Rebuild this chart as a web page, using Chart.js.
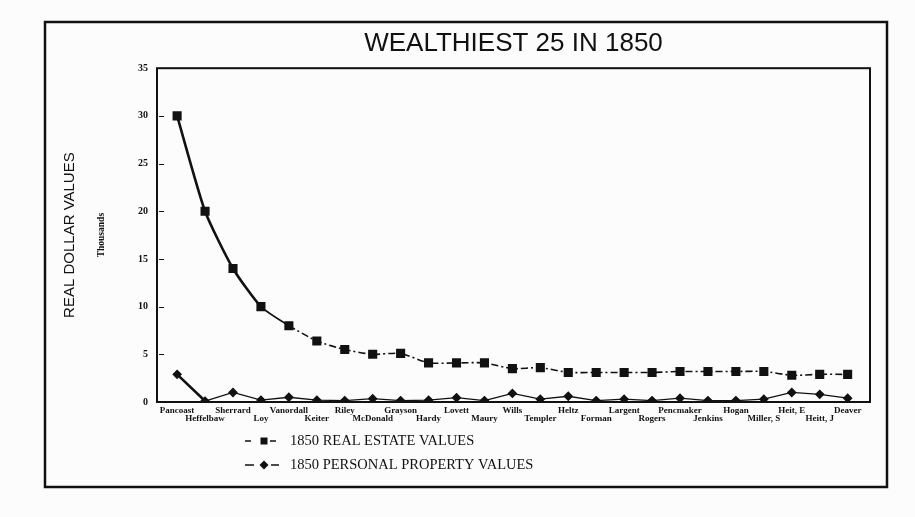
<!DOCTYPE html>
<html>
<head>
<meta charset="utf-8">
<title>Wealthiest 25 in 1850</title>
<script src="https://cdn.jsdelivr.net/npm/chart.js@4.4.1/dist/chart.umd.min.js"></script>
<style>
  html, body { margin: 0; padding: 0; background: #fcfcfc; }
  #wrap { width: 915px; height: 517px; position: relative; }
</style>
</head>
<body>
<div id="wrap"><canvas id="grafico"></canvas></div>
<script>
// ========================
// Data
// ========================
const names = ["Pancoast", "Heffelbaw", "Sherrard", "Loy", "Vanordall", "Keiter", "Riley",
  "McDonald", "Grayson", "Hardy", "Lovett", "Maury", "Wills", "Templer", "Heltz", "Forman",
  "Largent", "Rogers", "Pencmaker", "Jenkins", "Hogan", "Miller, S", "Heit, E", "Heitt, J", "Deaver"];

const realEstate = [30, 20, 14, 10, 8, 6.4, 5.5, 5.0, 5.1, 4.1, 4.1, 4.1, 3.5, 3.6, 3.1,
  3.1, 3.1, 3.1, 3.2, 3.2, 3.2, 3.2, 2.8, 2.9, 2.9];

const personal = [2.9, 0.1, 1.0, 0.2, 0.5, 0.2, 0.15, 0.35, 0.15, 0.2, 0.45, 0.15, 0.9, 0.3, 0.6,
  0.15, 0.3, 0.15, 0.4, 0.15, 0.15, 0.3, 1.0, 0.8, 0.4];

const yTicks = [0, 5, 10, 15, 20, 25, 30, 35];

const ink = "#111";
const serif = "'Liberation Serif', 'DejaVu Serif', serif";
const sans = "'Liberation Sans', Arial, sans-serif";

// ========================
// Frame, inner ticks and legend drawn on the canvas
// ========================
const framePlugin = {
  id: "frame",
  afterDraw(chart) {
    const { ctx, chartArea: a } = chart;
    const yScale = chart.scales.y;
    ctx.save();
    ctx.strokeStyle = ink;
    ctx.fillStyle = ink;

    // outer box
    ctx.lineWidth = 2.5;
    ctx.strokeRect(45, 22, chart.width - 45 - 28, chart.height - 22 - 30);

    // plot box
    ctx.lineWidth = 2;
    ctx.strokeRect(a.left, a.top, a.right - a.left, a.bottom - a.top);

    // little tick marks on the inside of the y axis
    ctx.lineWidth = 1.2;
    ctx.beginPath();
    yTicks.slice(1, -1).forEach(v => {
      const py = Math.round(yScale.getPixelForValue(v)) + 0.5;
      ctx.moveTo(a.left + 2, py);
      ctx.lineTo(a.left + 7, py);
    });
    ctx.stroke();

    // legend
    chart.data.datasets.forEach((ds, i) => {
      const y = a.bottom + 39 + i * 24;
      const cx = 264;
      ctx.lineWidth = 1.5;
      ctx.beginPath();
      ctx.moveTo(245, y); ctx.lineTo(i ? 254 : 251, y);
      ctx.moveTo(i ? 271 : 270, y); ctx.lineTo(i ? 279 : 276, y);
      ctx.stroke();
      ctx.beginPath();
      if (ds.pointStyle === "rect") {
        ctx.rect(cx - 3.5, y - 3.5, 7, 7);
      } else {
        ctx.moveTo(cx, y - 4.5); ctx.lineTo(cx + 4.5, y);
        ctx.lineTo(cx, y + 4.5); ctx.lineTo(cx - 4.5, y);
        ctx.closePath();
      }
      ctx.fill();
      ctx.font = "14.5px " + serif;
      ctx.textBaseline = "middle";
      ctx.textAlign = "left";
      ctx.fillText(ds.label, 290, y);
    });
    ctx.restore();
  }
};

// ========================
// Chart
// ========================
const ctx = document.getElementById("grafico").getContext("2d");
new Chart(ctx, {
  type: "line",
  data: {
    datasets: [{
      label: "1850 REAL ESTATE VALUES",
      data: names.map((n, i) => ({ x: i, y: realEstate[i] })),
      borderColor: ink,
      backgroundColor: ink,
      borderWidth: 1.6,
      pointStyle: "rect",
      pointRadius: 5.3,
      pointHoverRadius: 5.3,
      tension: 0.2,
      segment: {
        borderWidth: c => c.p0DataIndex < 3 ? 2.6 : 1.6,
        borderDash: c => c.p0DataIndex < 4 ? undefined : [7, 3, 2, 3]
      }
    }, {
      label: "1850 PERSONAL PROPERTY VALUES",
      data: names.map((n, i) => ({ x: i, y: personal[i] })),
      borderColor: ink,
      backgroundColor: ink,
      borderWidth: 1.3,
      pointStyle: "rectRot",
      pointRadius: 4,
      pointHoverRadius: 4,
      segment: {
        borderWidth: c => c.p0DataIndex < 1 ? 2.6 : 1.3
      }
    }]
  },
  options: {
    responsive: true,
    maintainAspectRatio: false,
    animation: false,
    layout: { padding: { left: 0, right: 45, top: 22, bottom: 30 } },
    plugins: {
      legend: { display: false },
      tooltip: { enabled: false },
      title: {
        display: true,
        fullSize: false,
        text: "WEALTHIEST 25 IN 1850",
        color: ink,
        font: { family: sans, size: 26, weight: "normal" },
        padding: { top: 6, bottom: 9 }
      }
    },
    scales: {
      x: {
        type: "linear",
        min: -0.72,
        max: 24.8,
        grid: { display: false, drawTicks: false },
        border: { display: false },
        afterBuildTicks: s => { s.ticks = names.map((n, i) => ({ value: i })); },
        afterFit: s => { s.height = 85; },
        ticks: {
          autoSkip: false,
          maxRotation: 0,
          minRotation: 0,
          padding: 5,
          color: ink,
          font: { family: serif, size: 9, weight: "bold", lineHeight: 0.85 },
          callback: (v, i) => i % 2 ? ["", names[i]] : names[i]
        }
      },
      y: {
        min: 0,
        max: 35,
        afterBuildTicks: s => { s.ticks = yTicks.map(v => ({ value: v })); },
        afterFit: s => { s.width = 69; },
        grid: { display: false, drawTicks: false },
        border: { display: false },
        ticks: {
          padding: 9,
          color: ink,
          font: { family: serif, size: 10, weight: "bold" }
        },
        title: {
          display: true,
          text: "Thousands",
          color: ink,
          font: { family: serif, size: 9.5, weight: "bold" },
          padding: { top: 8, bottom: 0 }
        }
      },
      yTitle: {
        type: "linear",
        position: "left",
        weight: 1,
        grid: { display: false, drawTicks: false },
        border: { display: false },
        ticks: { display: false },
        afterFit: s => { s.width = 88; },
        title: {
          display: true,
          text: "REAL DOLLAR VALUES",
          color: ink,
          font: { family: sans, size: 15, weight: "normal" },
          padding: { top: 61, bottom: 0 }
        }
      }
    }
  },
  plugins: [framePlugin]
});
</script>
</body>
</html>
